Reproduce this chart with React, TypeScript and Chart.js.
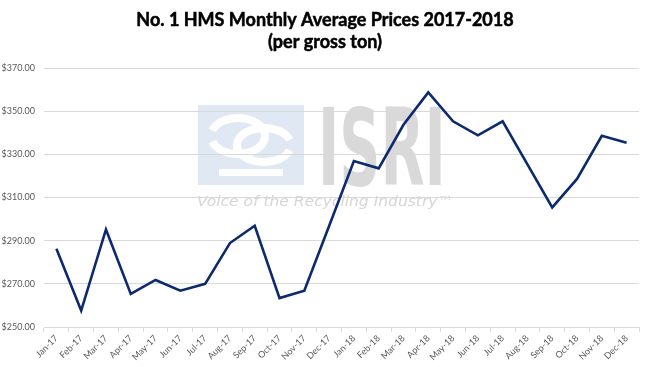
import React, { useEffect, useRef } from "react";
import { Chart, registerables } from "chart.js";

Chart.register(...registerables);

const categories = [
  "Jan-17", "Feb-17", "Mar-17", "Apr-17", "May-17", "Jun-17", "Jul-17", "Aug-17", "Sep-17", "Oct-17", "Nov-17", "Dec-17",
  "Jan-18", "Feb-18", "Mar-18", "Apr-18", "May-18", "Jun-18", "Jul-18", "Aug-18", "Sep-18", "Oct-18", "Nov-18", "Dec-18",
];

const prices = [
  286.3, 257.6, 295.2, 265.3, 271.8, 266.8, 270.0, 288.9, 296.9, 263.4, 266.8, 296.8,
  326.9, 323.5, 343.7, 358.7, 345.3, 338.8, 345.3, 325.3, 305.4, 318.6, 338.6, 335.4,
];

const titleLines = ["No. 1 HMS Monthly Average Prices 2017-2018", "(per gross ton)"];
const yMin = 250;
const yMax = 370;
const yStep = 20;

const watermarkPlugin = {
  id: "watermark",
  beforeDraw(chart: any) {
    const ctx = chart.ctx;
    ctx.save();
    // blue emblem box
    ctx.fillStyle = "#dfe8f3";
    ctx.fillRect(198, 105, 106, 80);
    // emblem rings (two interlocking open rings)
    ctx.strokeStyle = "#ffffff";
    ctx.lineWidth = 8;
    ctx.lineCap = "butt";
    ctx.beginPath();
    ctx.ellipse(238, 136, 27, 18, 0, Math.PI * 1.1, Math.PI * 0.9, false);
    ctx.stroke();
    ctx.beginPath();
    ctx.ellipse(264, 145, 27, 17, 0, Math.PI * 0.1, Math.PI * 1.9, false);
    ctx.stroke();
    ctx.fillStyle = "#ffffff";
    ctx.fillRect(219, 169, 64, 7);
    // ISRI letters
    ctx.fillStyle = "#d9d9d9";
    ctx.font = "bold 100px 'DejaVu Sans Condensed', 'DejaVu Sans'";
    ctx.textBaseline = "alphabetic";
    ctx.textAlign = "left";
    const m = ctx.measureText("ISRI");
    const w = m.actualBoundingBoxLeft + m.actualBoundingBoxRight;
    const h = m.actualBoundingBoxAscent;
    ctx.save();
    ctx.translate(323, 185);
    ctx.scale(118 / w, 80 / h);
    ctx.fillText("ISRI", m.actualBoundingBoxLeft, 0);
    ctx.restore();
    // tagline
    ctx.fillStyle = "#d6d6d6";
    ctx.font = "italic 14px 'DejaVu Sans'";
    const t = "Voice of the Recycling Industry\u2122";
    const tw = ctx.measureText(t).width;
    ctx.save();
    ctx.translate(197, 206);
    ctx.scale(256 / tw, 1);
    ctx.fillText(t, 0, 0);
    ctx.restore();
    ctx.restore();
  },
  afterDraw(chart: any) {
    const ctx = chart.ctx;
    ctx.save();
    ctx.fillStyle = "#000000";
    ctx.strokeStyle = "#000000";
    ctx.lineWidth = 0.5;
    ctx.textAlign = "center";
    ctx.textBaseline = "alphabetic";
    ctx.font = "bold 18px Lato";
    ctx.fillText(titleLines[0], 325, 26);
    ctx.strokeText(titleLines[0], 325, 26);
    ctx.fillText(titleLines[1], 325, 48);
    ctx.strokeText(titleLines[1], 325, 48);
    ctx.restore();
  },
};

export default function App() {
  const ref = useRef<HTMLCanvasElement>(null);
  useEffect(() => {
    if (!ref.current) return;
    const chart = new Chart(ref.current, {
      type: "line",
      data: {
        labels: categories,
        datasets: [
          {
            data: prices,
            borderColor: "#0c2a6d",
            borderWidth: 2.6,
            pointRadius: 0,
            tension: 0,
            fill: false,
          },
        ],
      },
      options: {
        animation: false,
        responsive: false,
        layout: { padding: { top: 68, right: 11, left: 0, bottom: 0 } },
        plugins: {
          legend: { display: false },
          title: { display: false },
          tooltip: { enabled: false },
        },
        scales: {
          x: {
            offset: true,
            grid: {
              offset: true,
              drawOnChartArea: false,
              drawTicks: true,
              tickLength: 5,
              color: "#d9d9d9",
            },
            border: { display: true, color: "#d9d9d9" },
            ticks: {
              autoSkip: false,
              maxRotation: 45,
              minRotation: 45,
              padding: 1,
              color: "#595959",
              font: { family: "Lato", size: 9 },
            },
            afterFit(scale: any) {
              scale.height = 40;
            },
          },
          y: {
            min: yMin,
            max: yMax,
            grid: { color: "#d9d9d9", drawTicks: false },
            border: { display: false },
            ticks: {
              stepSize: yStep,
              padding: 9,
              color: "#595959",
              font: { family: "Lato", size: 9 },
              callback: (v: any) => "$" + Number(v).toFixed(2),
            },
            afterFit(scale: any) {
              scale.width = 44;
            },
          },
        },
      },
      plugins: [watermarkPlugin],
    });
    return () => chart.destroy();
  }, []);
  return (
    <div style={{ position: "absolute", left: 0, top: 0, width: 650, height: 367, background: "#fff" }}>
      <canvas ref={ref} width={650} height={367} />
    </div>
  );
}
